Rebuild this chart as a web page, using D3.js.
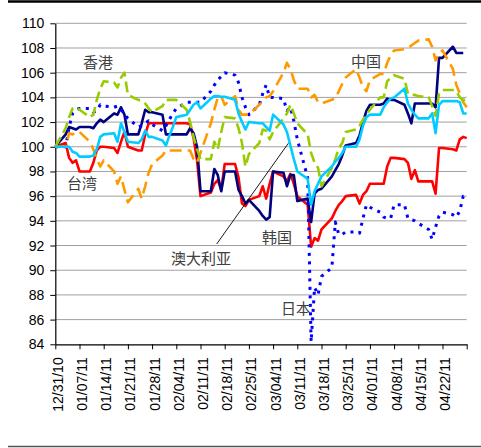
<!DOCTYPE html>
<html>
<head>
<meta charset="utf-8">
<script src="https://cdn.jsdelivr.net/npm/d3@7"></script>
<style>
  html, body { margin: 0; padding: 0; background: #fff; }
  svg { display: block; }
</style>
</head>
<body>
<svg id="chart" width="481" height="448"></svg>
<script>
// Trading days (weekdays) from 31 Dec 2010 to 29 Apr 2011
const startDate = new Date(2010, 11, 31);
const endDate = new Date(2011, 3, 30);
const dates = d3.timeDay.range(startDate, endDate).filter(d => d.getDay() !== 0 && d.getDay() !== 6);

// Weekly tick dates (every Friday), the last one unlabelled
const tickDates = d3.range(18).map(i => d3.timeDay.offset(startDate, 7 * i));
const tickLabels = ["12/31/10","01/07/11","01/14/11","01/21/11","01/28/11","02/04/11","02/11/11","02/18/11",
  "02/25/11","03/04/11","03/11/11","03/18/11","03/25/11","04/01/11","04/08/11","04/15/11","04/22/11",""];

const yTicks = [84,86,88,90,92,94,96,98,100,102,104,106,108,110];

// Index levels, base 31 Dec 2010 = 100 (one value per weekday)
const korea = [100,
  101.0,101.6,101.5,101.4,101.6,  101.6,101.5,101.9,102.2,102.0,  102.7,102.6,103.2,102.6,101.0,
  101.0,101.9,103.0,102.8,102.8,  102.6,101.0,101.0,101.0,101.0,  101.0,101.5,101.1,100.0,96.4,
  96.4,98.2,97.7,96.4,98.0,       98.0,96.5,96.0,95.4,95.7,       94.8,94.4,94.1,94.3,98.0,
  97.9,96.8,97.7,97.7,95.6,       95.8,93.9,96.2,96.5,96.6,       97.6,98.1,98.6,99.3,100.1,
  100.3,100.9,102.0,102.9,103.4,  103.4,103.5,103.9,103.8,103.8,  103.4,102.7,101.9,103.5,103.5,
  103.5,103.5,103.2,107.2,107.2,  108.1,107.6,107.6,107.6,null];

const taiwan = [100,
  100.3,99.1,98.7,98.9,98.0,      98.0,98.7,99.7,100.0,100.0,     99.9,99.5,100.4,101.2,100.0,
  99.7,99.7,101.0,101.9,101.9,    101.9,101.9,101.9,101.9,101.9,  101.9,101.8,100.7,98.9,96.0,
  96.3,97.0,97.3,96.5,98.6,       98.6,97.5,95.4,95.2,95.7,       96.0,96.8,95.8,97.0,98.0,
  97.6,97.2,97.8,97.0,96.0,       95.3,91.9,92.6,92.4,93.3,       94.2,94.8,95.3,95.6,96.0,
  96.1,95.4,96.1,96.4,97.0,       97.0,97.0,98.4,99.1,99.1,       99.0,98.7,97.4,98.1,97.2,
  97.2,97.2,96.2,99.9,99.9,       99.8,99.7,100.6,100.8,100.7];

const australia = [100,
  100.0,100.0,99.6,99.5,99.2,     99.2,99.3,99.8,100.8,101.0,     101.1,100.4,101.9,101.2,100.4,
  100.3,100.6,101.3,100.8,100.8,  100.5,100.1,100.9,101.6,102.4,  102.6,103.0,103.4,103.6,103.1,
  103.9,104.1,104.1,104.05,104.05, 103.8,102.7,102.0,101.4,102.0, 101.9,101.9,101.6,101.3,102.6,
  101.8,101.2,100.1,99.0,98.0,    97.4,95.3,96.4,97.0,97.6,       98.4,98.8,99.1,99.5,100.0,
  100.0,100.6,101.7,102.4,102.6,  102.6,103.2,103.6,103.9,104.0,  104.7,103.5,103.0,102.6,102.3,
  102.3,102.7,101.1,103.4,103.7,  103.7,103.7,103.6,102.7,102.7];

const japan = [100,
  100.0,101.6,102.7,103.0,103.1,  103.1,102.8,102.9,103.4,103.3,  103.2,103.3,103.0,102.6,102.3,
  101.6,101.7,101.9,102.1,101.8,  101.3,101.7,102.2,102.7,103.1,  103.6,103.6,103.6,103.6,103.6,
  104.5,105.0,105.4,105.7,106.0,  105.8,105.2,104.0,103.2,102.6,  103.4,104.3,105.0,104.0,104.0,
  103.9,102.9,103.2,102.1,100.6,  97.5,84.2,88.6,88.0,89.5,       90.2,93.9,92.9,92.9,93.1,
  93.1,93.0,94.2,95.3,95.1,       94.7,94.3,94.2,94.2,95.3,       95.3,94.2,94.1,94.0,93.8,
  93.3,92.5,93.5,94.4,94.7,       94.5,94.3,94.8,96.0,96.0];

const hongkong = [100,
  101.5,102.4,103.1,103.2,103.0,  102.4,102.6,103.8,104.7,105.3,  105.2,104.8,105.6,106.0,104.2,
  103.8,103.7,103.5,103.1,102.8,  103.3,103.8,103.8,103.8,103.8,  103.0,102.0,100.8,99.8,99.0,
  99.0,100.4,99.8,101.2,102.4,    102.3,101.5,100.3,98.4,99.4,    100.3,101.4,101.3,100.6,101.2,
  102.3,102.7,103.4,102.7,101.9,  101.0,99.5,98.7,98.3,96.8,      98.3,99.0,99.9,100.3,101.2,
  101.4,101.7,102.2,102.6,103.0,  104.0,104.0,105.3,105.6,105.8,  105.5,104.3,104.2,104.2,104.1,
  104.0,103.3,102.5,104.3,104.6,  104.6,104.5,104.0,103.8,103.8];

const china = [100,
  100.0,101.1,101.0,101.2,101.2,  100.4,99.8,99.0,98.4,98.9,      98.0,97.0,97.6,96.5,95.5,
  96.6,95.8,96.8,97.9,98.6,       99.3,99.7,99.7,99.7,99.7,       99.7,99.7,99.0,98.7,99.5,
  101.9,103.0,104.0,104.1,103.4,  104.1,103.0,102.6,102.6,102.6,  103.4,103.7,104.0,104.1,104.5,
  106.0,106.8,106.3,105.4,104.7,  104.7,104.0,104.2,103.6,103.5,  103.8,103.9,104.5,105.1,105.6,
  106.3,105.6,104.8,104.5,105.4,  105.9,105.9,106.8,107.4,107.8,  107.9,108.0,108.2,108.4,108.6,
  108.7,108.1,107.0,107.6,107.8,  106.3,105.0,104.3,103.6,103.2];

const seriesList = [
  { name: "台湾", values: taiwan, color: "#FF0000", width: 2.6, dash: null },
  { name: "韩国", values: korea, color: "#000080", width: 2.6, dash: null },
  { name: "日本", values: japan, color: "#0000FF", width: 3, dash: "3,5.5" },
  { name: "中国", values: china, color: "#FF9900", width: 2.6, dash: "12,6" },
  { name: "香港", values: hongkong, color: "#99CC00", width: 2.6, dash: "11,5" },
  { name: "澳大利亚", values: australia, color: "#00CCFF", width: 2.6, dash: null }
];

const svg = d3.select("#chart");
const plotLeft = 55.3, plotRight = 466.7, plotTop = 23.3, plotBottom = 344.3;

const x = d3.scaleTime().domain([startDate, tickDates[tickDates.length - 1]]).range([plotLeft, plotRight]);
const y = d3.scaleLinear().domain([84, 110]).range([plotBottom, plotTop]);

// frame rules above and below the chart
svg.append("line").attr("x1", 8).attr("x2", 481).attr("y1", 1.5).attr("y2", 1.5)
  .attr("stroke", "#000").attr("stroke-width", 2.5);
svg.append("line").attr("x1", 8).attr("x2", 481).attr("y1", 446.5).attr("y2", 446.5)
  .attr("stroke", "#555").attr("stroke-width", 1.5);

// horizontal gridlines
svg.append("g").selectAll("line").data(yTicks.filter(v => v > 84)).join("line")
  .attr("x1", plotLeft).attr("x2", plotRight)
  .attr("y1", d => y(d)).attr("y2", d => y(d))
  .attr("stroke", "#a0a0a0").attr("stroke-width", 1);

// y axis
const yAxis = svg.append("g").attr("transform", `translate(${plotLeft},0)`)
  .call(d3.axisLeft(y).tickValues(yTicks).tickSize(5).tickSizeOuter(0).tickPadding(6));
yAxis.select(".domain").attr("stroke", "#000").attr("stroke-width", 1.2);
yAxis.selectAll(".tick line").attr("stroke", "#000");
yAxis.selectAll("text").attr("font-family", "'Liberation Sans', Arial, sans-serif")
  .attr("font-size", 14).attr("fill", "#000");

// x axis
const xAxis = svg.append("g").attr("transform", `translate(0,${plotBottom})`)
  .call(d3.axisBottom(x).tickValues(tickDates).tickSize(5).tickSizeOuter(0)
    .tickFormat((d, i) => tickLabels[i]));
xAxis.select(".domain").attr("stroke", "#000").attr("stroke-width", 1.2);
xAxis.selectAll(".tick line").attr("stroke", "#000");
xAxis.selectAll("text")
  .attr("font-family", "'Liberation Sans', Arial, sans-serif")
  .attr("font-size", 14).attr("fill", "#000")
  .attr("text-anchor", "end")
  .attr("dy", null).attr("y", 0)
  .attr("transform", "translate(7,13) rotate(-90)");

// series lines
const line = d3.line()
  .defined(d => d.v != null)
  .x(d => x(d.date))
  .y(d => y(d.v));

const lines = svg.append("g");
seriesList.forEach(s => {
  const pts = dates.map((d, i) => ({ date: d, v: s.values[i] }));
  lines.append("path")
    .datum(pts)
    .attr("fill", "none")
    .attr("stroke", s.color)
    .attr("stroke-width", s.width)
    .attr("stroke-linejoin", "round")
    .attr("stroke-dasharray", s.dash)
    .attr("d", line);
});

// series name labels
const labelData = [
  { text: "香港", x: 98, y: 61 },
  { text: "台湾", x: 82, y: 182 },
  { text: "中国", x: 366, y: 60 },
  { text: "韩国", x: 277, y: 236 },
  { text: "澳大利亚", x: 201, y: 257 },
  { text: "日本", x: 296, y: 307 }
];
svg.append("line")
  .attr("x1", 216.7).attr("y1", 244).attr("x2", 288.3).attr("y2", 143.3)
  .attr("stroke", "#000").attr("stroke-width", 0.9);
svg.append("g").selectAll("text").data(labelData).join("text")
  .attr("x", d => d.x).attr("y", d => d.y)
  .attr("text-anchor", "middle").attr("dominant-baseline", "central")
  .attr("font-family", "'Noto Sans CJK SC', sans-serif")
  .attr("font-size", 15).attr("fill", "#404040")
  .text(d => d.text);
</script>
</body>
</html>
